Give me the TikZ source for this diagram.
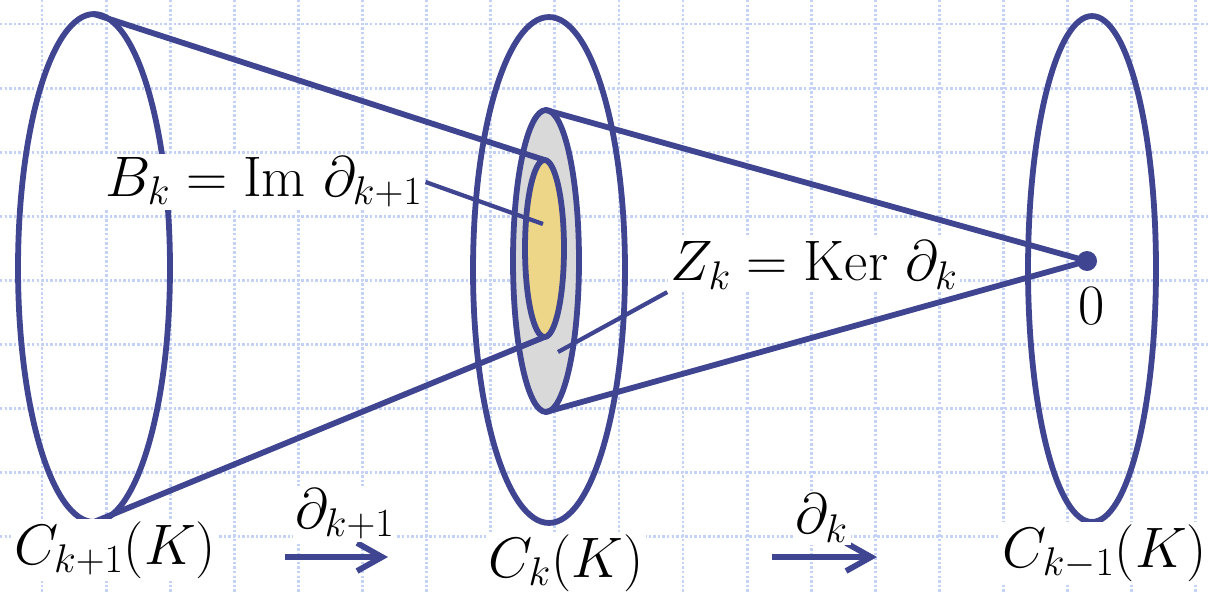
\RequirePackage{fix-cm}
\documentclass[tikz,border=0pt]{standalone}
\usetikzlibrary{arrows.meta,shapes.geometric}
\definecolor{hcblue}{HTML}{3F4590}
\definecolor{hcgray}{HTML}{D9D9D9}
\definecolor{hcyellow}{HTML}{EDD688}
\definecolor{hcgrid}{HTML}{C4D2F7}
\tikzset{
  hc text/.style={font=\fontsize{32.5}{38}\selectfont, text=black},
  hc grid/.style={draw=hcgrid, line width=1.6pt, dash pattern=on 1.4pt off 1.2pt},
  hc ring/.style={ellipse, draw=hcblue, line width=3.3pt, inner sep=0pt, outer sep=0pt},
  hc shade/.style={hc ring, fill=hcgray},
  hc core/.style={hc ring, fill=hcyellow},
  hc cone/.style={draw=hcblue, line width=3.3pt, line cap=round},
  hc pointer/.style={draw=hcblue, line width=2.4pt},
  hc arrow/.style={-{Straight Barb[length=5mm,width=5.6mm]}, draw=hcblue, line width=3.3pt},
  hc label/.style={fill=white, inner sep=1.5pt},
  hc dot/.style={circle, fill=hcblue, inner sep=0pt, minimum size=4mm}
}

\begin{document}
\begin{tikzpicture}[hc text, x=0.02cm, y=-0.02cm]
  \useasboundingbox (0,0) rectangle (1210,592);
  % background grid
  \foreach \i in {0,...,18} {\draw[hc grid] (42+64.1*\i,0) -- (42+64.1*\i,592);}
  \foreach \j in {0,...,8} {\draw[hc grid] (0,24+64.1*\j) -- (1210,24+64.1*\j);}
  % the three chain groups
  \node[hc ring, minimum width=3.04cm, minimum height=10.16cm] (cplus) at (94,268) {};
  \node[hc ring, minimum width=3.04cm, minimum height=10.12cm] (cmid) at (549,270) {};
  \node[hc ring, minimum width=2.56cm, minimum height=10.12cm] (cminus) at (1092,269) {};
  % cycles and boundaries
  \node[hc shade, minimum width=1.32cm, minimum height=6.04cm] (cycles) at (546,261) {};
  \node[hc core, minimum width=0.78cm, minimum height=3.54cm] (bounds) at (544.5,248.5) {};
  \node[hc dot] (zero) at (1087,261) {};
  % cones
  \draw[hc cone] (cplus.north) -- (bounds.north);
  \draw[hc cone] (cplus.south) -- (bounds.south);
  \draw[hc cone] (cycles.north) -- (zero.center);
  \draw[hc cone] (cycles.south) -- (zero.center);
  % labels
  \node[hc label] (blabel) at (264,182) {$B_k=\mathrm{Im}\ \partial_{k+1}$};
  \node[hc label] (zlabel) at (814,265) {$Z_k=\mathrm{Ker}\ \partial_k$};
  \coordinate (bpt) at (543,224);
  \coordinate (zpt) at (558,352);
  \draw[hc pointer] (blabel.east) -- (bpt);
  \draw[hc pointer] (zlabel.south west) -- (zpt);
  \node[hc label] (zerolab) at (1092,306) {$0$};
  \node[hc label] (lplus) at (115,550) {$C_{k+1}(K)$};
  \node[hc label] (lmid) at (566,563) {$C_k(K)$};
  \node[hc label] (lminus) at (1105,553) {$C_{k-1}(K)$};
  % boundary maps
  \coordinate (a1) at (285,557);
  \coordinate (a2) at (388,557);
  \coordinate (b1) at (772,557);
  \coordinate (b2) at (877,557);
  \draw[hc arrow] (a1) -- (a2);
  \draw[hc arrow] (b1) -- (b2);
  \node[hc label] (mapa) at (345,514) {$\partial_{k+1}$};
  \node[hc label] (mapb) at (822,518) {$\partial_k$};
\end{tikzpicture}
\end{document}
